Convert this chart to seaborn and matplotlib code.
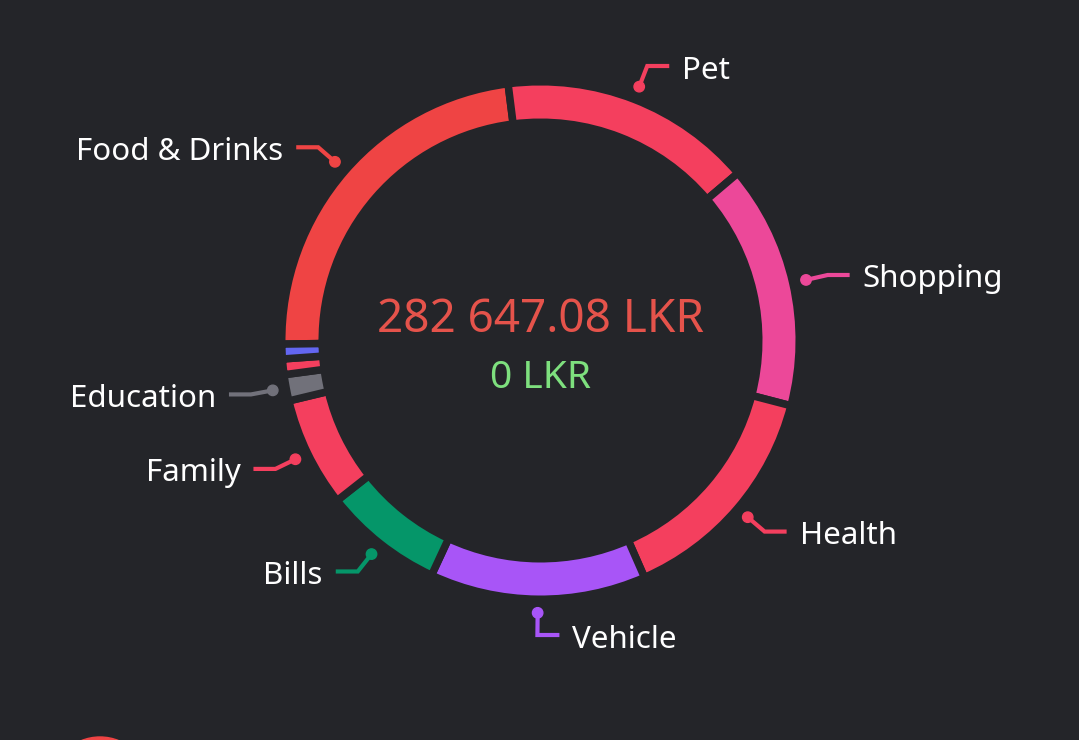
import numpy as np
import matplotlib
matplotlib.use("Agg")
import matplotlib.pyplot as plt
import seaborn as sns
from matplotlib.patches import Circle

categories = ["Food & Drinks", "Pet", "Shopping", "Health", "Vehicle", "Bills",
              "Family", "Education", "Other A", "Other B"]
values = [65637.08, 44674, 43103, 40592, 38157, 21120, 19393, 4632, 2748, 2591]
colors = ["#EF4444", "#F43F5E", "#EC4899", "#F43F5E", "#A855F7", "#059669",
          "#F43F5E", "#71717A", "#F43F5E", "#6366F1"]
show_label = [True, True, True, True, True, True, True, True, False, False]
income_total = 0

BG = "#242529"
sns.set_theme(style="dark")
plt.rcParams["font.family"] = ["Noto Sans", "DejaVu Sans"]

W, H = 1079, 740
fig = plt.figure(figsize=(W / 100, H / 100), dpi=100, facecolor=BG)
ax = fig.add_axes([0, 0, 1, 1])
ax.set_facecolor(BG)

cx, cy = 540.5, H - 340.5
R = 255.0
gap_px = 7.5
wedges, _ = ax.pie(values, colors=colors, startangle=180.8, counterclock=False,
                   center=(cx, cy), radius=R + gap_px / 2, frame=True,
                   wedgeprops=dict(width=33 + gap_px, edgecolor=BG,
                                   linewidth=gap_px * 72 / 100))
ax.set_xlim(0, W)
ax.set_ylim(0, H)
ax.set_aspect("equal")
ax.axis("off")

for w, name, col, show in zip(wedges, categories, colors, show_label):
    if not show:
        continue
    mid = np.deg2rad((w.theta1 + w.theta2) / 2)
    ux, uy = np.cos(mid), np.sin(mid)
    dx, dy = cx + 1.068 * R * ux, cy + 1.068 * R * uy
    ex, ey = cx + 1.155 * R * ux, cy + 1.155 * R * uy
    side = 1 if ux >= -0.05 else -1
    hx = ex + side * 22
    ax.plot([dx, ex, hx], [dy, ey, ey], color=col, lw=3.0, solid_capstyle="butt",
            solid_joinstyle="miter", zorder=3)
    ax.add_patch(Circle((dx, dy), 5.2, color=col, zorder=4))
    ax.text(hx + side * 13, ey - 12.5, name, color="white", fontsize=22.5,
            ha="left" if side > 0 else "right", va="baseline", zorder=5)

total = sum(values)
ax.text(cx, cy + 21, f"{total:,.2f} LKR".replace(",", " "), color="#E5534B",
        fontsize=33, ha="center", va="center")
ax.text(cx, cy - 37, f"{income_total:,.0f} LKR".replace(",", " "), color="#7EE07E",
        fontsize=28, ha="center", va="center")

ax.add_patch(Circle((100, H - 787), 50, color="#EF4444", zorder=2))

fig.savefig("out.png", dpi=100, facecolor=BG)
